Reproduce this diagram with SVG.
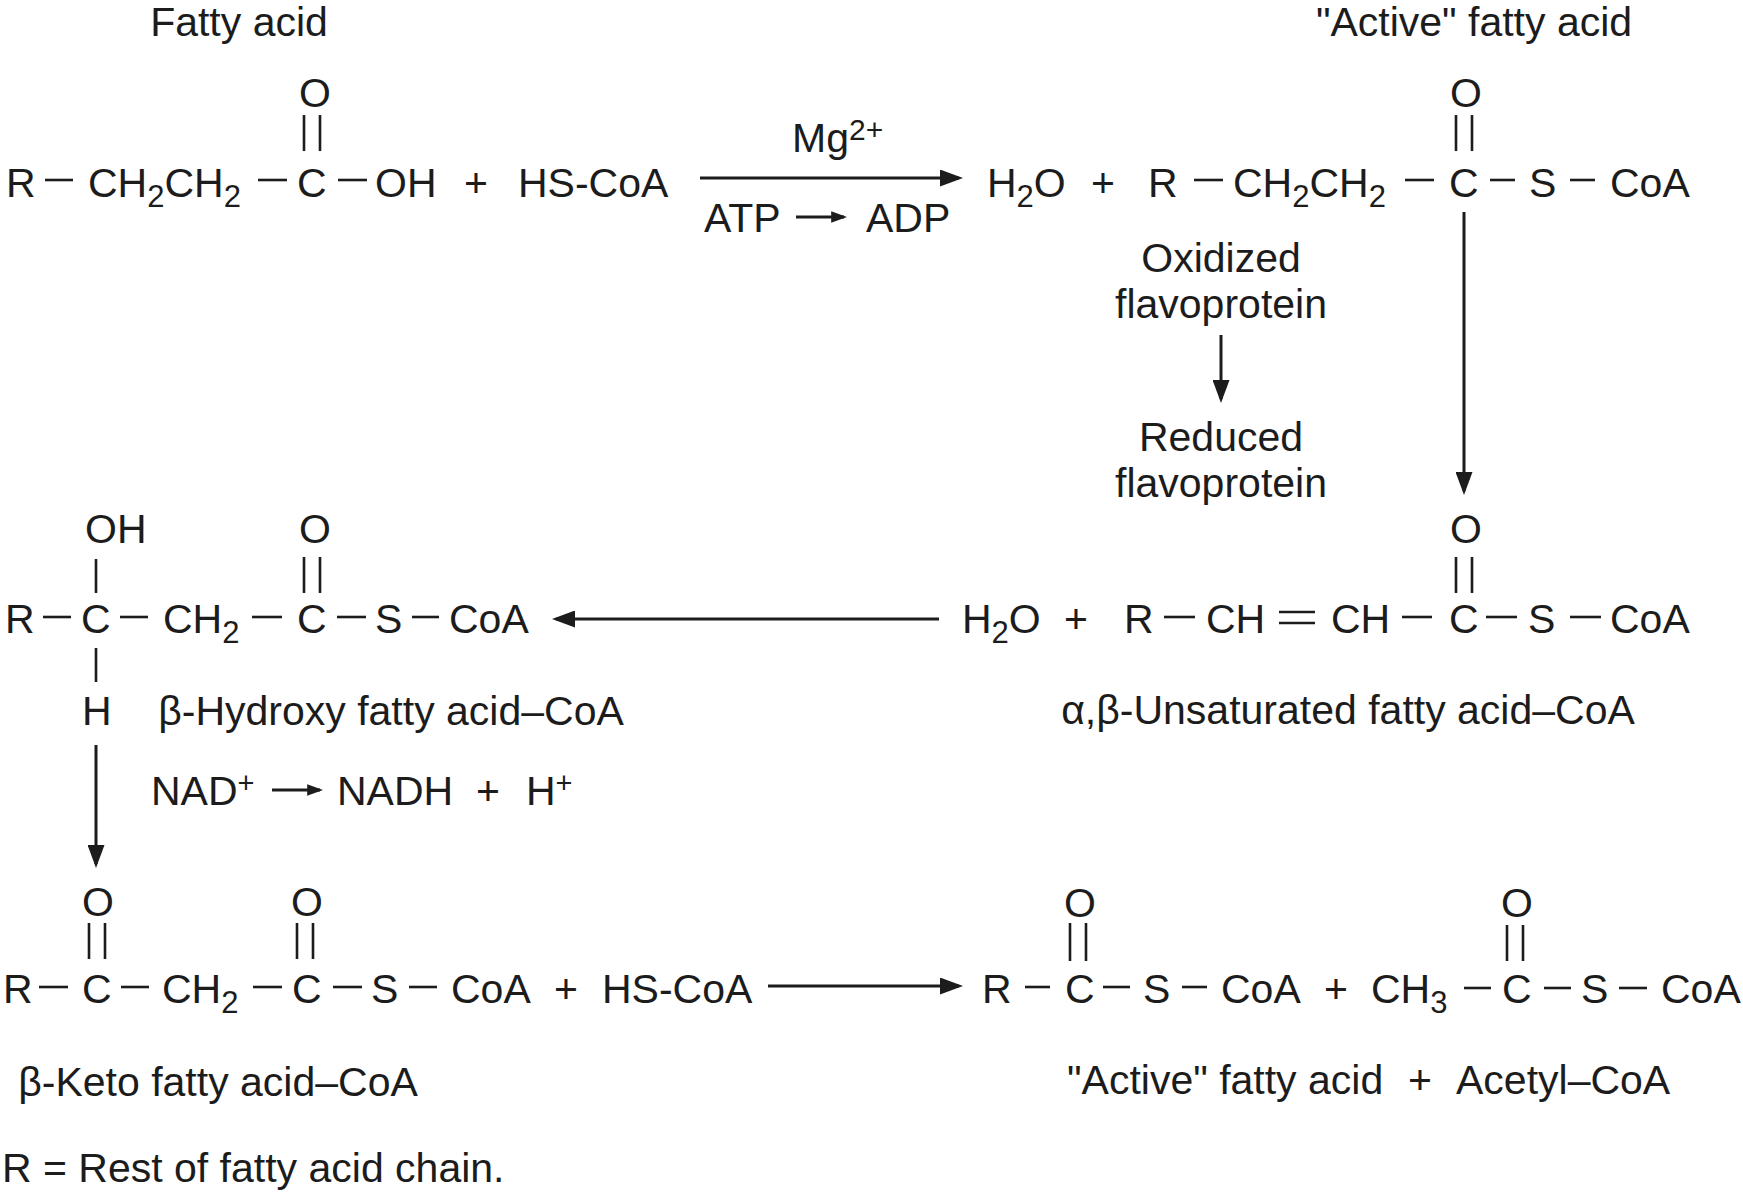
<svg xmlns="http://www.w3.org/2000/svg" width="1743" height="1201" viewBox="0 0 1743 1201">
<style>
  text { font-family: "Liberation Sans", Arial, Helvetica, sans-serif; font-size: 41px; fill: #1c1c1c; }
  .sub { font-size: 31px; }
  .sup { font-size: 29px; }
  .sup2 { font-size: 30px; }
  .mid { text-anchor: middle; }
  .bond { stroke: #1c1c1c; stroke-width: 2.6; fill: none; }
  .arrow { stroke: #1c1c1c; stroke-width: 3; fill: none; }
</style>
<defs>
  <marker id="ah" markerUnits="userSpaceOnUse" markerWidth="24" markerHeight="17" viewBox="0 0 23 17" refX="19" refY="8.5" orient="auto">
    <path d="M0,0 L23,8.5 L0,17 z" fill="#1c1c1c"/>
  </marker>
  <marker id="ahs" markerUnits="userSpaceOnUse" markerWidth="16" markerHeight="12" viewBox="0 0 15 11" refX="12" refY="5.5" orient="auto">
    <path d="M0,0 L15,5.5 L0,11 z" fill="#1c1c1c"/>
  </marker>
</defs>
<rect width="1743" height="1201" fill="#ffffff"/>

<!-- Row 1: fatty acid -->
<g id="fatty-acid">
  <text class="mid" x="239" y="36">Fatty acid</text>
  <text x="6" y="197">R</text>
  <line class="bond" x1="45" y1="180" x2="73" y2="180"/>
  <text x="88" y="197">CH<tspan class="sub" dy="10">2</tspan><tspan dy="-10">CH</tspan><tspan class="sub" dy="10">2</tspan></text>
  <line class="bond" x1="258" y1="180" x2="287" y2="180"/>
  <text x="297" y="197">C</text>
  <text x="299" y="107">O</text>
  <line class="bond" x1="304" y1="115" x2="304" y2="151"/>
  <line class="bond" x1="320" y1="115" x2="320" y2="151"/>
  <line class="bond" x1="338" y1="180" x2="367" y2="180"/>
  <text x="375" y="197">OH</text>
</g>
<g id="plus-1"><text x="464" y="197">+</text></g>
<g id="hscoa-1"><text x="518" y="197">HS-CoA</text></g>

<g id="activation-conditions">
  <text x="792" y="152">Mg<tspan class="sup2" dy="-12">2+</tspan></text>
  <text x="704" y="232">ATP</text>
  <text x="866" y="232">ADP</text>
</g>

<g id="h2o-1">
  <text x="987" y="197">H<tspan class="sub" dy="10">2</tspan><tspan dy="-10">O</tspan></text>
  <text x="1091" y="197">+</text>
</g>

<g id="active-fatty-acid-1">
  <text class="mid" x="1474" y="36">"Active" fatty acid</text>
  <text x="1148" y="197">R</text>
  <line class="bond" x1="1194" y1="180" x2="1223" y2="180"/>
  <text x="1233" y="197">CH<tspan class="sub" dy="10">2</tspan><tspan dy="-10">CH</tspan><tspan class="sub" dy="10">2</tspan></text>
  <line class="bond" x1="1405" y1="180" x2="1434" y2="180"/>
  <text x="1449" y="197">C</text>
  <text x="1450" y="107">O</text>
  <line class="bond" x1="1456" y1="115" x2="1456" y2="151"/>
  <line class="bond" x1="1472" y1="115" x2="1472" y2="151"/>
  <line class="bond" x1="1490" y1="180" x2="1515" y2="180"/>
  <text x="1529" y="197">S</text>
  <line class="bond" x1="1570" y1="180" x2="1595" y2="180"/>
  <text x="1610" y="197">CoA</text>
</g>

<g id="flavoprotein">
  <text class="mid" x="1221" y="272">Oxidized</text>
  <text class="mid" x="1221" y="318">flavoprotein</text>
  <text class="mid" x="1221" y="451">Reduced</text>
  <text class="mid" x="1221" y="497">flavoprotein</text>
</g>

<!-- Row 2 -->
<g id="hydroxy-fatty-acid-coa">
  <text x="85" y="543">OH</text>
  <line class="bond" x1="96" y1="559" x2="96" y2="593"/>
  <text x="5" y="633">R</text>
  <line class="bond" x1="43" y1="617" x2="71" y2="617"/>
  <text x="81" y="633">C</text>
  <line class="bond" x1="120" y1="617" x2="148" y2="617"/>
  <text x="163" y="633">CH<tspan class="sub" dy="10">2</tspan></text>
  <line class="bond" x1="252" y1="617" x2="282" y2="617"/>
  <text x="297" y="633">C</text>
  <text x="299" y="543">O</text>
  <line class="bond" x1="304" y1="557" x2="304" y2="593"/>
  <line class="bond" x1="320" y1="557" x2="320" y2="593"/>
  <line class="bond" x1="337" y1="617" x2="366" y2="617"/>
  <text x="375" y="633">S</text>
  <line class="bond" x1="412" y1="617" x2="439" y2="617"/>
  <text x="449" y="633">CoA</text>
  <line class="bond" x1="96" y1="648" x2="96" y2="682"/>
  <text x="82" y="725">H</text>
  <text class="mid" x="391" y="725">β-Hydroxy fatty acid–CoA</text>
</g>

<g id="h2o-2">
  <text x="962" y="633">H<tspan class="sub" dy="10">2</tspan><tspan dy="-10">O</tspan></text>
  <text x="1064" y="633">+</text>
</g>

<g id="unsaturated-fatty-acid-coa">
  <text x="1124" y="633">R</text>
  <line class="bond" x1="1164" y1="617" x2="1195" y2="617"/>
  <text x="1206" y="633">CH</text>
  <line class="bond" x1="1279" y1="612" x2="1315" y2="612"/>
  <line class="bond" x1="1279" y1="623" x2="1315" y2="623"/>
  <text x="1331" y="633">CH</text>
  <line class="bond" x1="1402" y1="617" x2="1432" y2="617"/>
  <text x="1449" y="633">C</text>
  <text x="1450" y="543">O</text>
  <line class="bond" x1="1456" y1="557" x2="1456" y2="593"/>
  <line class="bond" x1="1472" y1="557" x2="1472" y2="593"/>
  <line class="bond" x1="1486" y1="617" x2="1517" y2="617"/>
  <text x="1528" y="633">S</text>
  <line class="bond" x1="1570" y1="617" x2="1601" y2="617"/>
  <text x="1610" y="633">CoA</text>
  <text class="mid" x="1348" y="724">α,β-Unsaturated fatty acid–CoA</text>
</g>

<g id="nad-reduction">
  <text x="151" y="805">NAD<tspan class="sup" dy="-12">+</tspan></text>
  <text x="337" y="805">NADH</text>
  <text x="476" y="805">+</text>
  <text x="526" y="805">H<tspan class="sup" dy="-12">+</tspan></text>
</g>

<!-- Row 3 -->
<g id="keto-fatty-acid-coa">
  <text x="82" y="916">O</text>
  <line class="bond" x1="89" y1="923" x2="89" y2="959"/>
  <line class="bond" x1="105" y1="923" x2="105" y2="959"/>
  <text x="3" y="1003">R</text>
  <line class="bond" x1="39" y1="987" x2="68" y2="987"/>
  <text x="82" y="1003">C</text>
  <line class="bond" x1="121" y1="987" x2="149" y2="987"/>
  <text x="162" y="1003">CH<tspan class="sub" dy="10">2</tspan></text>
  <line class="bond" x1="253" y1="987" x2="282" y2="987"/>
  <text x="292" y="1003">C</text>
  <text x="291" y="916">O</text>
  <line class="bond" x1="297" y1="923" x2="297" y2="959"/>
  <line class="bond" x1="313" y1="923" x2="313" y2="959"/>
  <line class="bond" x1="333" y1="987" x2="362" y2="987"/>
  <text x="371" y="1003">S</text>
  <line class="bond" x1="409" y1="987" x2="437" y2="987"/>
  <text x="451" y="1003">CoA</text>
  <text class="mid" x="218" y="1096">β-Keto fatty acid–CoA</text>
</g>
<g id="plus-3"><text x="554" y="1003">+</text></g>
<g id="hscoa-2"><text x="602" y="1003">HS-CoA</text></g>

<g id="active-fatty-acid-2">
  <text x="982" y="1003">R</text>
  <line class="bond" x1="1025" y1="987" x2="1050" y2="987"/>
  <text x="1065" y="1003">C</text>
  <text x="1064" y="917">O</text>
  <line class="bond" x1="1070" y1="923" x2="1070" y2="961"/>
  <line class="bond" x1="1086" y1="923" x2="1086" y2="961"/>
  <line class="bond" x1="1103" y1="987" x2="1130" y2="987"/>
  <text x="1143" y="1003">S</text>
  <line class="bond" x1="1182" y1="987" x2="1207" y2="987"/>
  <text x="1221" y="1003">CoA</text>
  <text x="1324" y="1003">+</text>
</g>

<g id="acetyl-coa">
  <text x="1371" y="1003">CH<tspan class="sub" dy="10">3</tspan></text>
  <line class="bond" x1="1464" y1="988" x2="1491" y2="988"/>
  <text x="1502" y="1003">C</text>
  <text x="1501" y="917">O</text>
  <line class="bond" x1="1507" y1="925" x2="1507" y2="961"/>
  <line class="bond" x1="1523" y1="925" x2="1523" y2="961"/>
  <line class="bond" x1="1544" y1="988" x2="1571" y2="988"/>
  <text x="1581" y="1003">S</text>
  <line class="bond" x1="1619" y1="988" x2="1647" y2="988"/>
  <text x="1661" y="1003">CoA</text>
</g>

<g id="products-label">
  <text x="1067" y="1094">"Active" fatty acid</text>
  <text x="1408" y="1094">+</text>
  <text x="1456" y="1094">Acetyl–CoA</text>
</g>

<g id="footnote">
  <text x="2" y="1182">R = Rest of fatty acid chain.</text>
</g>

<!-- Connectors -->
<g id="connectors">
  <line class="arrow" x1="700" y1="178" x2="959" y2="178" marker-end="url(#ah)"/>
  <line class="arrow" x1="796" y1="217" x2="844" y2="217" marker-end="url(#ahs)"/>
  <line class="arrow" x1="1464" y1="212" x2="1464" y2="491" marker-end="url(#ah)"/>
  <line class="arrow" x1="1221" y1="335" x2="1221" y2="399" marker-end="url(#ah)"/>
  <line class="arrow" x1="939" y1="619" x2="556" y2="619" marker-end="url(#ah)"/>
  <line class="arrow" x1="96" y1="745" x2="96" y2="864" marker-end="url(#ah)"/>
  <line class="arrow" x1="272" y1="790" x2="320" y2="790" marker-end="url(#ahs)"/>
  <line class="arrow" x1="768" y1="986" x2="959" y2="986" marker-end="url(#ah)"/>
</g>
</svg>
